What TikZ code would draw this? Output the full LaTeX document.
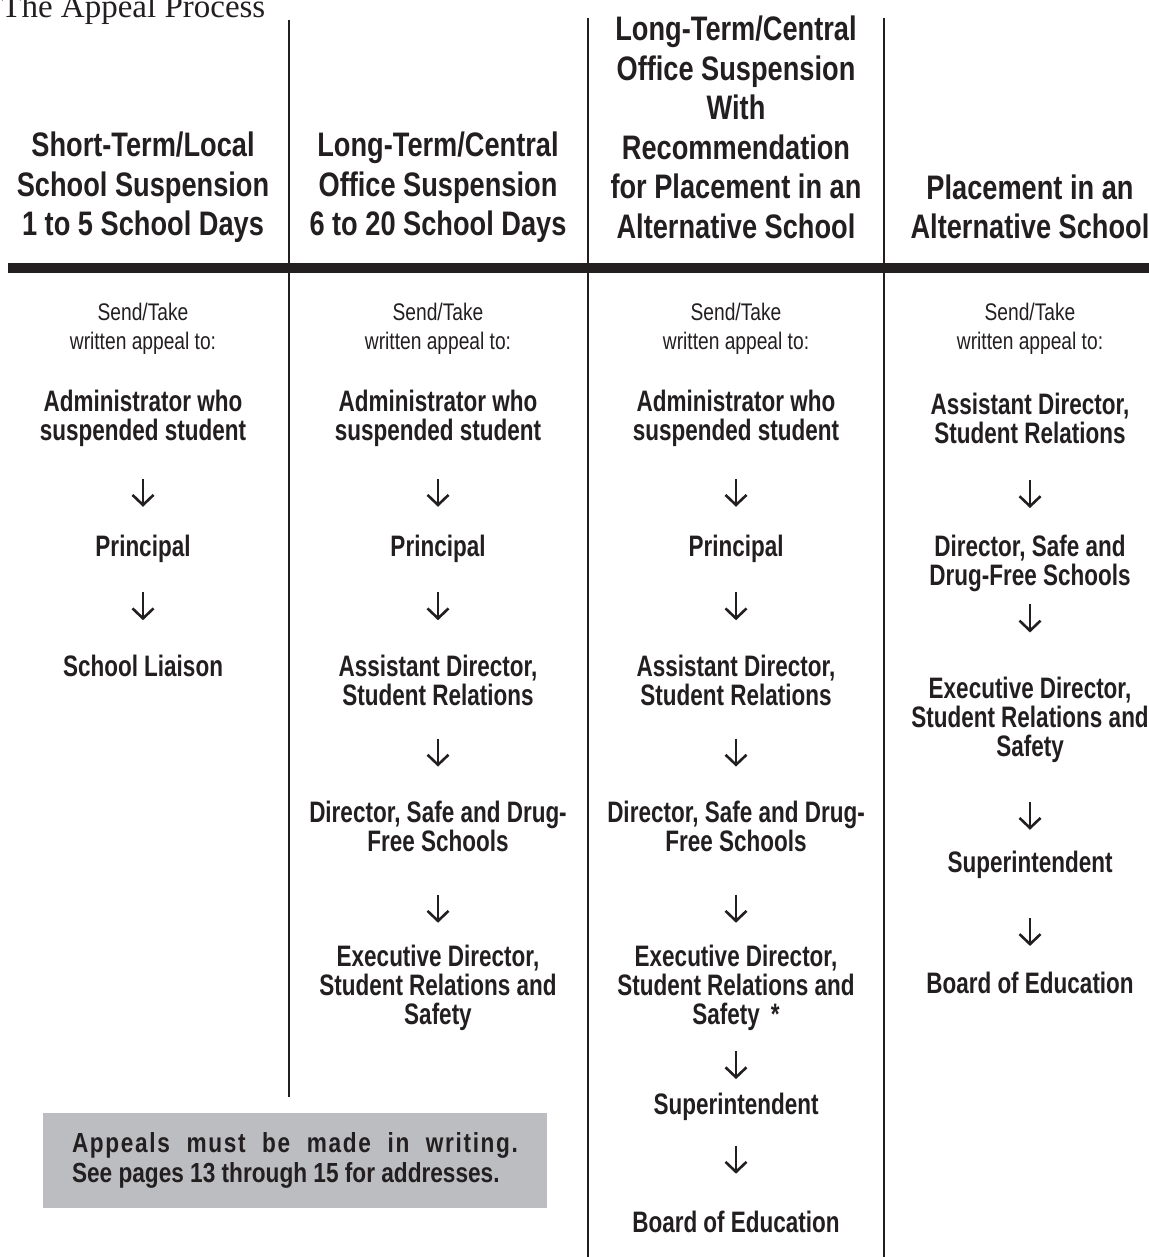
\documentclass[tikz,border=0pt]{standalone}
\usepackage{fontspec}
\setmainfont{Liberation Sans}
\newfontfamily\headfont{Liberation Sans}[FakeStretch=0.8]
\newfontfamily\stagefont{Liberation Sans}[FakeStretch=0.76]
\newfontfamily\notefont{Liberation Sans}[FakeStretch=0.8]
\newfontfamily\memofont{Liberation Sans}[FakeStretch=0.82]
\newfontfamily\titlefont{Liberation Serif}
\usetikzlibrary{arrows.meta,calc}
\definecolor{ink}{RGB}{35,31,32}
\definecolor{memogray}{RGB}{188,189,192}

\begin{document}
\begin{tikzpicture}[
  x=0.5pt, y=-0.5pt,
  head/.style={font=\headfont\bfseries\fontsize{17}{19.75}\selectfont,
               align=center, text=ink, inner sep=0pt},
  stage/.style={font=\stagefont\bfseries\fontsize{14.8}{14.5}\selectfont,
                align=center, text=ink, inner sep=0pt},
  note/.style={font=\notefont\fontsize{12}{14.5}\selectfont,
               align=center, text=ink, inner sep=0pt},
  flow/.style={draw=ink, line width=1.3pt,
               -{Straight Barb[length=5pt,width=10.5pt]}},
  rail/.style={draw=ink, line width=1.1pt},
]
  \useasboundingbox (0,0) rectangle (1149,1257);
  \node[font=\titlefont\fontsize{16.5}{18}\selectfont, text=ink, inner sep=0pt,
        anchor=base west] (title) at (1,18) {The Appeal Process};

  \draw[rail] (289,20) -- (289,1097);
  \draw[rail] (588,18) -- (588,1257);
  \draw[rail] (884,18) -- (884,1257);
  \draw[ink, line width=5pt] (8,268) -- (1149,268);

  \node[head] (c1h) at (143,187.5) {Short-Term/Local\\School Suspension\\1 to 5 School Days};
  \node[head] (c2h) at (438,187.5) {Long-Term/Central\\Office Suspension\\6 to 20 School Days};
  \node[head] (c3h) at (736,127.5) {Long-Term/Central\\Office Suspension\\With\\Recommendation\\for Placement in an\\Alternative School};
  \node[head] (c4h) at (1030,207) {Placement in an\\Alternative School};

  \node[note] (c1n) at (143,328.5) {Send/Take\\written appeal to:};
  \node[note] (c2n) at (438,328.5) {Send/Take\\written appeal to:};
  \node[note] (c3n) at (736,328.5) {Send/Take\\written appeal to:};
  \node[note] (c4n) at (1030,328.5) {Send/Take\\written appeal to:};

  \node[stage] (c1s1) at (143,418.5) {Administrator who\\suspended student};
  \node[stage] (c1s2) at (143,549) {Principal};
  \node[stage] (c1s3) at (143,666) {School Liaison};

  \node[stage] (c2s1) at (438,418.5) {Administrator who\\suspended student};
  \node[stage] (c2s2) at (438,549) {Principal};
  \node[stage] (c2s3) at (438,680.5) {Assistant Director,\\Student Relations};
  \node[stage] (c2s4) at (438,826.5) {Director, Safe and Drug-\\Free Schools};
  \node[stage] (c2s5) at (438,988) {Executive Director,\\Student Relations and\\Safety};

  \node[stage] (c3s1) at (736,418.5) {Administrator who\\suspended student};
  \node[stage] (c3s2) at (736,549) {Principal};
  \node[stage] (c3s3) at (736,680.5) {Assistant Director,\\Student Relations};
  \node[stage] (c3s4) at (736,826.5) {Director, Safe and Drug-\\Free Schools};
  \node[stage] (c3s5) at (736,988) {Executive Director,\\Student Relations and\\Safety~\,*};
  \node[stage] (c3s6) at (736,1107) {Superintendent};
  \node[stage] (c3s7) at (736,1222) {Board of Education};

  \node[stage] (c4s1) at (1030,418.5) {Assistant Director,\\Student Relations};
  \node[stage] (c4s2) at (1030,563.5) {Director, Safe and\\Drug-Free Schools};
  \node[stage] (c4s3) at (1030,720) {Executive Director,\\Student Relations and\\Safety};
  \node[stage] (c4s4) at (1030,865) {Superintendent};
  \node[stage] (c4s5) at (1030,983) {Board of Education};

  \draw[flow] ($(c1s1.south)!0.52!(c1s2.north)$) ++(0,-14) -- ++(0,28);
  \draw[flow] ($(c1s2.south)!0.47!(c1s3.north)$) ++(0,-14) -- ++(0,28);
  \draw[flow] ($(c2s1.south)!0.52!(c2s2.north)$) ++(0,-14) -- ++(0,28);
  \draw[flow] ($(c2s2.south)!0.47!(c2s3.north)$) ++(0,-14) -- ++(0,28);
  \draw[flow] ($(c2s3.south)!0.49!(c2s4.north)$) ++(0,-14) -- ++(0,28);
  \draw[flow] ($(c2s4.south)!0.61!(c2s5.north)$) ++(0,-14) -- ++(0,28);
  \draw[flow] ($(c3s1.south)!0.52!(c3s2.north)$) ++(0,-14) -- ++(0,28);
  \draw[flow] ($(c3s2.south)!0.47!(c3s3.north)$) ++(0,-14) -- ++(0,28);
  \draw[flow] ($(c3s3.south)!0.49!(c3s4.north)$) ++(0,-14) -- ++(0,28);
  \draw[flow] ($(c3s4.south)!0.61!(c3s5.north)$) ++(0,-14) -- ++(0,28);
  \draw[flow] ($(c3s5.south)!0.55!(c3s6.north)$) ++(0,-14) -- ++(0,28);
  \draw[flow] ($(c3s6.south)!0.43!(c3s7.north)$) ++(0,-14) -- ++(0,28);
  \draw[flow] ($(c4s1.south)!0.55!(c4s2.north)$) ++(0,-14) -- ++(0,28);
  \draw[flow] ($(c4s2.south)!0.31!(c4s3.north)$) ++(0,-14) -- ++(0,28);
  \draw[flow] ($(c4s3.south)!0.60!(c4s4.north)$) ++(0,-14) -- ++(0,28);
  \draw[flow] ($(c4s4.south)!0.57!(c4s5.north)$) ++(0,-14) -- ++(0,28);

  \node[fill=memogray, minimum width=252pt, minimum height=47.5pt, inner sep=0pt,
        align=left, text=ink, font=\memofont\bfseries\fontsize{13.8}{15}\selectfont]
    (memo) at (295,1160.5)
    {\makebox[223pt][s]{\addfontfeature{LetterSpace=6}Appeals must be made in writing.}\\
     See pages 13 through 15 for addresses.};
\end{tikzpicture}
\end{document}
